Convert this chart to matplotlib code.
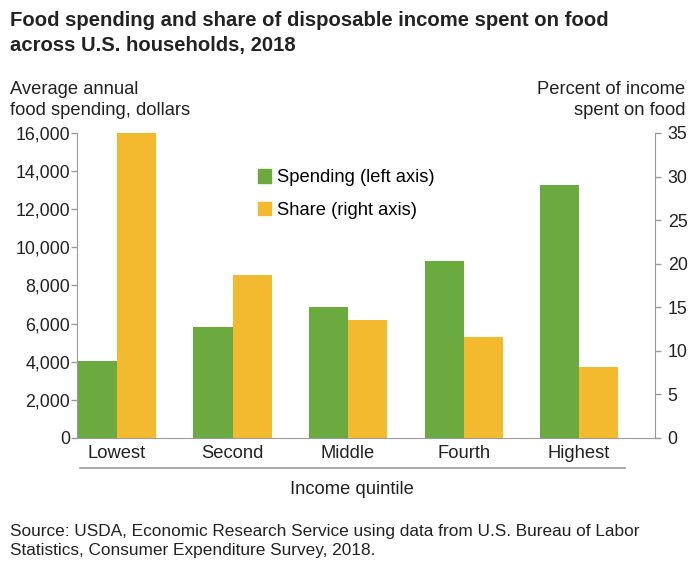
import matplotlib
matplotlib.use("Agg")
import matplotlib.pyplot as plt
import numpy as np
from matplotlib.patches import Patch

plt.rcParams['font.family'] = ['Liberation Sans', 'DejaVu Sans']

# données
quintiles = ["Lowest", "Second", "Middle", "Fourth", "Highest"]
spending = [4060, 5810, 6890, 9290, 13270]      # dollars, axe gauche
share = [35.0, 18.7, 13.5, 11.6, 8.2]           # pourcentage, axe droit

GREEN = "#6BAA3E"
YELLOW = "#F4BA2F"
GRAY = "#9a9a9a"
TXT = "#222222"
FS = 13.2

fig = plt.figure(figsize=(6.94, 5.61), dpi=100)
ax = fig.add_axes([0.111, 0.2193, 0.833, 0.5437])
ax2 = ax.twinx()

x = np.arange(len(quintiles))
w = 0.338
ax.bar(x - w / 2, spending, w, color=GREEN, zorder=2)
ax2.bar(x + w / 2, share, w, color=YELLOW, zorder=2)

ax.set_xlim(-0.346, 4.658)
ax.set_ylim(0, 16000)
ax2.set_ylim(0, 35)
ax.set_yticks(np.arange(0, 16001, 2000))
ax.set_yticklabels([f"{v:,}" for v in range(0, 16001, 2000)])
ax2.set_yticks(np.arange(0, 36, 5))
ax.set_xticks(x)
ax.set_xticklabels(quintiles)

for a in (ax, ax2):
    for s in a.spines.values():
        s.set_visible(False)
    a.tick_params(axis='y', colors=GRAY, labelcolor=TXT, labelsize=12.8, length=4, width=1)
ax.spines['left'].set_visible(True)
ax.spines['left'].set_color(GRAY)
ax.spines['bottom'].set_visible(True)
ax.spines['bottom'].set_color(GRAY)
ax2.spines['right'].set_visible(True)
ax2.spines['right'].set_color(GRAY)
ax.tick_params(axis='x', length=0, labelsize=FS, labelcolor=TXT, pad=5)
ax.tick_params(axis='y', pad=1)
ax2.tick_params(axis='y', pad=5)

# ligne sous les catégories
fig.add_artist(plt.Line2D([80 / 694, 625 / 694], [1 - 468 / 561] * 2, color=GRAY, lw=1.2))
fig.text(352 / 694, 1 - 490 / 561, "Income quintile", ha='center', va='center', fontsize=FS, color=TXT)

handles = [Patch(color=GREEN, label="Spending (left axis)"), Patch(color=YELLOW, label="Share (right axis)")]
ax.legend(handles=handles, loc='upper left', bbox_to_anchor=(0.284, 0.935), frameon=False,
          fontsize=FS, handlelength=0.75, handleheight=0.75, handletextpad=0.3, labelspacing=0.85)

fig.text(10 / 694, 1 - 33 / 561, "Food spending and share of disposable income spent on food\nacross U.S. households, 2018",
         ha='left', va='center', fontsize=14.6, fontweight='bold', color=TXT, linespacing=1.4)
fig.text(10 / 694, 1 - 100 / 561, "Average annual\nfood spending, dollars", ha='left', va='center',
         fontsize=FS, color=TXT, linespacing=1.35)
fig.text(685 / 694, 1 - 100 / 561, "Percent of income\nspent on food", ha='right', va='center',
         fontsize=FS, color=TXT, linespacing=1.35)
fig.text(10 / 694, 1 - 541 / 561, "Source: USDA, Economic Research Service using data from U.S. Bureau of Labor\nStatistics, Consumer Expenditure Survey, 2018.",
         ha='left', va='center', fontsize=12.4, color=TXT, linespacing=1.38)

fig.savefig("out.png", dpi=100)
